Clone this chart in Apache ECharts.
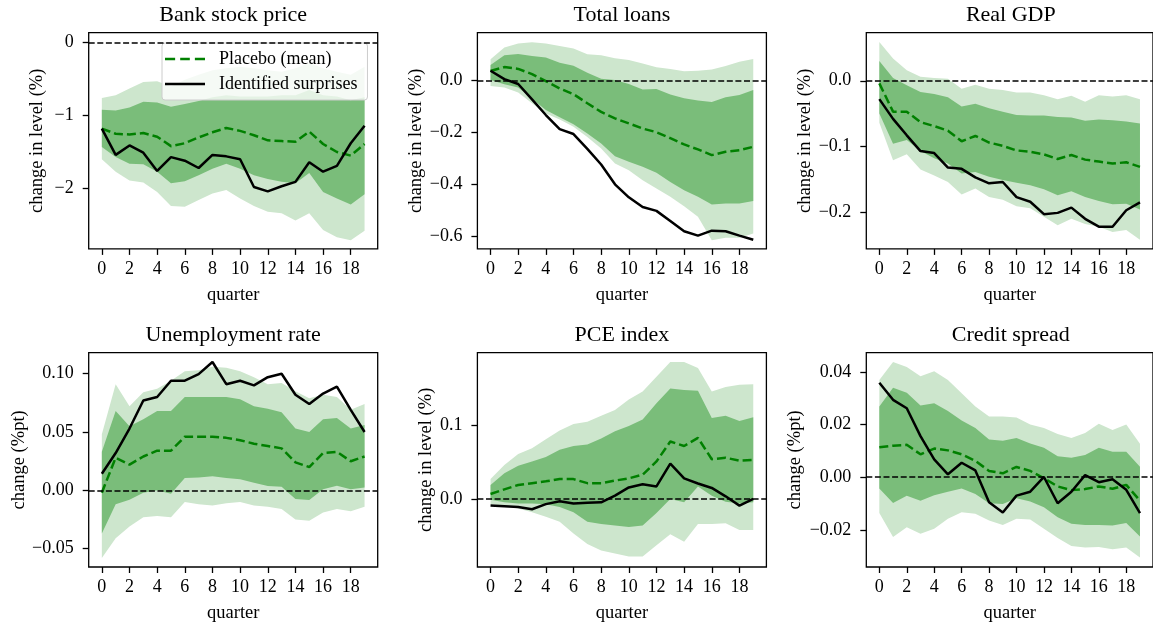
<!DOCTYPE html>
<html>
<head>
<meta charset="utf-8">
<script src="https://cdn.jsdelivr.net/npm/echarts@6/dist/echarts.min.js"></script>
<style>
html,body{margin:0;padding:0;background:#fff;}
#chart{width:1153px;height:624px;}
</style>
</head>
<body>
<div id="chart"></div>
<script>
// ---------------- DATA ----------------
const quarters = [0,1,2,3,4,5,6,7,8,9,10,11,12,13,14,15,16,17,18,19];
const xTicks = [0,2,4,6,8,10,12,14,16,18];

const panelTitles = ['Bank stock price','Total loans','Real GDP','Unemployment rate','PCE index','Credit spread'];
const yAxisNames = ['change in level (%)','change in level (%)','change in level (%)','change (%pt)','change in level (%)','change (%pt)'];
const yTicks = [[-2,-1,0],[-0.6,-0.4,-0.2,0],[-0.2,-0.1,0],[-0.05,0,0.05,0.1],[0,0.1],[-0.02,0,0.02,0.04]];
const yDecimals = [0,1,1,2,1,2];
const yRanges = [[-2.83,0.137],[-0.647,0.183],[-0.2558,0.0731],[-0.0657,0.118],[-0.0924,0.1987],[-0.0341,0.0473]];
const legendNames = ['Placebo (mean)','Identified surprises'];

// Bank stock price
const bankIdent   = [-1.18,-1.54,-1.41,-1.51,-1.76,-1.57,-1.62,-1.72,-1.54,-1.56,-1.60,-1.98,-2.04,-1.97,-1.91,-1.64,-1.77,-1.69,-1.38,-1.14];
const bankMean    = [-1.18,-1.25,-1.26,-1.24,-1.29,-1.42,-1.38,-1.30,-1.23,-1.17,-1.21,-1.27,-1.34,-1.35,-1.36,-1.22,-1.39,-1.50,-1.55,-1.39];
const bankDarkHi  = [-0.92,-0.93,-0.89,-0.81,-0.82,-0.88,-0.84,-0.80,-0.75,-0.72,-0.74,-0.74,-0.74,-0.72,-0.72,-0.65,-0.72,-0.74,-0.79,-0.75];
const bankDarkLo  = [-1.43,-1.57,-1.66,-1.67,-1.77,-1.93,-1.90,-1.82,-1.73,-1.66,-1.73,-1.82,-1.87,-1.91,-1.93,-1.79,-2.05,-2.14,-2.22,-2.08];
const bankLightHi = [-0.76,-0.72,-0.63,-0.54,-0.53,-0.60,-0.51,-0.44,-0.38,-0.35,-0.33,-0.35,-0.38,-0.40,-0.35,-0.28,-0.35,-0.40,-0.44,-0.33];
const bankLightLo = [-1.60,-1.77,-1.89,-1.92,-2.05,-2.24,-2.25,-2.16,-2.07,-2.02,-2.14,-2.24,-2.32,-2.34,-2.44,-2.34,-2.57,-2.67,-2.71,-2.58];

// Total loans
const loansIdent   = [0.037,0.005,-0.014,-0.073,-0.133,-0.187,-0.206,-0.263,-0.323,-0.399,-0.449,-0.486,-0.501,-0.540,-0.579,-0.596,-0.577,-0.579,-0.596,-0.612];
const loansMean    = [0.036,0.051,0.044,0.024,-0.003,-0.031,-0.053,-0.088,-0.121,-0.146,-0.165,-0.185,-0.199,-0.222,-0.246,-0.265,-0.287,-0.274,-0.268,-0.255];
const loansDarkHi  = [0.059,0.096,0.101,0.094,0.088,0.068,0.056,0.029,0.006,0.001,-0.014,-0.035,-0.033,-0.054,-0.069,-0.077,-0.083,-0.065,-0.056,-0.037];
const loansDarkLo  = [0.001,-0.015,-0.027,-0.071,-0.114,-0.142,-0.168,-0.204,-0.242,-0.291,-0.312,-0.332,-0.355,-0.390,-0.422,-0.447,-0.477,-0.473,-0.473,-0.463];
const loansLightHi = [0.081,0.126,0.142,0.146,0.142,0.132,0.122,0.100,0.096,0.085,0.078,0.065,0.050,0.044,0.035,0.037,0.042,0.055,0.071,0.082];
const loansLightLo = [-0.022,-0.027,-0.047,-0.088,-0.127,-0.150,-0.178,-0.217,-0.262,-0.319,-0.345,-0.383,-0.415,-0.447,-0.483,-0.524,-0.614,-0.604,-0.604,-0.588];

// Real GDP
const gdpIdent   = [-0.028,-0.058,-0.083,-0.107,-0.110,-0.132,-0.134,-0.147,-0.156,-0.154,-0.177,-0.184,-0.203,-0.201,-0.193,-0.210,-0.222,-0.222,-0.197,-0.185];
const gdpMean    = [-0.004,-0.047,-0.047,-0.063,-0.069,-0.076,-0.092,-0.084,-0.094,-0.099,-0.106,-0.108,-0.112,-0.119,-0.113,-0.120,-0.123,-0.126,-0.124,-0.131];
const gdpDarkHi  = [0.030,0.004,-0.007,-0.017,-0.020,-0.025,-0.039,-0.035,-0.042,-0.047,-0.052,-0.053,-0.053,-0.055,-0.056,-0.061,-0.059,-0.060,-0.062,-0.065];
const gdpDarkLo  = [-0.050,-0.096,-0.090,-0.107,-0.118,-0.126,-0.141,-0.139,-0.146,-0.151,-0.155,-0.159,-0.165,-0.174,-0.168,-0.177,-0.183,-0.188,-0.187,-0.196];
const gdpLightHi = [0.059,0.034,0.016,0.006,0.004,0.003,-0.012,-0.006,-0.012,-0.014,-0.018,-0.018,-0.022,-0.028,-0.023,-0.032,-0.022,-0.024,-0.022,-0.028];
const gdpLightLo = [-0.064,-0.121,-0.112,-0.135,-0.144,-0.154,-0.173,-0.164,-0.177,-0.181,-0.191,-0.194,-0.207,-0.220,-0.210,-0.218,-0.222,-0.230,-0.227,-0.242];

// Unemployment rate
const unempIdent   = [0.0142,0.032,0.053,0.077,0.080,0.094,0.094,0.0996,0.110,0.091,0.094,0.090,0.097,0.100,0.082,0.074,0.083,0.089,0.069,0.050];
const unempMean    = [-0.002,0.028,0.022,0.029,0.034,0.034,0.046,0.046,0.046,0.045,0.043,0.040,0.038,0.036,0.024,0.020,0.032,0.033,0.025,0.029];
const unempDarkHi  = [0.033,0.068,0.055,0.061,0.068,0.068,0.080,0.080,0.080,0.080,0.078,0.072,0.070,0.067,0.053,0.050,0.061,0.062,0.053,0.056];
const unempDarkLo  = [-0.037,-0.012,-0.008,-0.002,0.000,-0.003,0.0105,0.011,0.012,0.0105,0.0096,0.0065,0.0037,0.003,-0.0074,-0.0082,0.001,0.004,0.001,0.0025];
const unempLightHi = [0.048,0.091,0.072,0.084,0.087,0.094,0.102,0.103,0.106,0.105,0.102,0.097,0.091,0.092,0.085,0.079,0.082,0.080,0.069,0.074];
const unempLightLo = [-0.058,-0.041,-0.031,-0.023,-0.022,-0.023,-0.010,-0.012,-0.013,-0.011,-0.010,-0.013,-0.014,-0.016,-0.025,-0.026,-0.019,-0.016,-0.018,-0.014];

// PCE index
const pceIdent   = [-0.009,-0.010,-0.011,-0.014,-0.007,-0.003,-0.006,-0.005,-0.0045,0.0045,0.0157,0.020,0.017,0.048,0.028,0.021,0.015,0.0036,-0.009,0.000];
const pceMean    = [0.0067,0.013,0.019,0.0215,0.024,0.027,0.027,0.0215,0.0215,0.025,0.028,0.033,0.051,0.078,0.072,0.083,0.054,0.056,0.052,0.053];
const pceDarkHi  = [0.019,0.035,0.045,0.051,0.057,0.067,0.072,0.074,0.082,0.092,0.099,0.108,0.130,0.150,0.148,0.147,0.110,0.113,0.106,0.111];
const pceDarkLo  = [-0.001,-0.0045,-0.006,-0.006,-0.007,-0.011,-0.018,-0.031,-0.034,-0.036,-0.038,-0.036,-0.019,0.000,-0.0045,0.017,0.0045,-0.0036,-0.006,-0.0045];
const pceLightHi = [0.027,0.046,0.061,0.069,0.081,0.093,0.102,0.105,0.113,0.121,0.135,0.146,0.166,0.186,0.186,0.178,0.146,0.152,0.155,0.156];
const pceLightLo = [-0.007,-0.009,-0.013,-0.018,-0.024,-0.031,-0.047,-0.061,-0.070,-0.074,-0.078,-0.078,-0.063,-0.048,-0.058,-0.034,-0.034,-0.033,-0.042,-0.042];

// Credit spread
const spreadIdent   = [0.0359,0.0294,0.0262,0.0156,0.0068,0.0011,0.0055,0.0026,-0.0095,-0.0134,-0.007,-0.0055,0.0001,-0.0099,-0.0055,0.0008,-0.0019,-0.0008,-0.0048,-0.0136];
const spreadMean    = [0.0114,0.012,0.0123,0.0087,0.0109,0.0102,0.0087,0.0062,0.0024,0.0015,0.0039,0.0024,-0.0004,-0.0035,-0.0049,-0.0045,-0.0035,-0.0044,-0.0029,-0.0089];
const spreadDarkHi  = [0.0269,0.034,0.0321,0.0272,0.0281,0.0252,0.0215,0.0187,0.0143,0.0139,0.0149,0.0128,0.0112,0.008,0.0074,0.0084,0.0112,0.0097,0.0097,0.004];
const spreadDarkLo  = [-0.0043,-0.0098,-0.007,-0.0089,-0.0068,-0.0055,-0.0043,-0.0064,-0.0099,-0.0102,-0.008,-0.0092,-0.0114,-0.0152,-0.0177,-0.0181,-0.0181,-0.0183,-0.0174,-0.0225];
const spreadLightHi = [0.0369,0.0438,0.0419,0.0384,0.0403,0.0369,0.0319,0.0269,0.0231,0.0231,0.0227,0.020,0.0187,0.0164,0.0149,0.0168,0.0203,0.0179,0.020,0.0127];
const spreadLightLo = [-0.0136,-0.0227,-0.019,-0.0215,-0.0196,-0.0158,-0.0133,-0.0139,-0.0164,-0.0181,-0.0158,-0.0161,-0.0196,-0.0231,-0.0261,-0.0267,-0.0265,-0.0274,-0.0267,-0.0305];

const panels = [
  {ident: bankIdent,   mean: bankMean,   darkHi: bankDarkHi,   darkLo: bankDarkLo,   lightHi: bankLightHi,   lightLo: bankLightLo},
  {ident: loansIdent,  mean: loansMean,  darkHi: loansDarkHi,  darkLo: loansDarkLo,  lightHi: loansLightHi,  lightLo: loansLightLo},
  {ident: gdpIdent,    mean: gdpMean,    darkHi: gdpDarkHi,    darkLo: gdpDarkLo,    lightHi: gdpLightHi,    lightLo: gdpLightLo},
  {ident: unempIdent,  mean: unempMean,  darkHi: unempDarkHi,  darkLo: unempDarkLo,  lightHi: unempLightHi,  lightLo: unempLightLo},
  {ident: pceIdent,    mean: pceMean,    darkHi: pceDarkHi,    darkLo: pceDarkLo,    lightHi: pceLightHi,    lightLo: pceLightLo},
  {ident: spreadIdent, mean: spreadMean, darkHi: spreadDarkHi, darkLo: spreadDarkLo, lightHi: spreadLightHi, lightLo: spreadLightLo}
];

// ---------------- LAYOUT / STYLE ----------------
const FONT = "'Liberation Serif', 'Times New Roman', Times, serif";
const gridLefts = [88.7, 477.4, 866.3];
const gridTops = [32.7, 352.7];
const GW = 289, GH = 216.2;
const yNameGaps = [42, 46, 47.5, 57, 41.5, 61.5];
const LIGHT = '#cde6cd', DARK = '#7abd7a', GREEN = '#008000';
const DASH_ICON = 'path://M0,0h10v2.5h-10z M15,0h9.5v2.5h-9.5z M29.5,0h10v2.5h-10z';
const SOLID_ICON = 'path://M0,0h39.5v2.5h-39.5z';

function fmt(v, d) {
  const s = Math.abs(v) < 1e-12 ? (0).toFixed(d) : v.toFixed(d);
  return s.replace('-', '\u2212');
}

const grids = [], xAxes = [], yAxes = [], series = [], graphics = [];
panels.forEach((p, i) => {
  const col = i % 3, row = Math.floor(i / 3);
  const left = gridLefts[col], top = gridTops[row];
  grids.push({left: left, top: top, width: GW, height: GH, show: true,
    borderColor: '#000', borderWidth: 1.3, backgroundColor: 'transparent', containLabel: false});
  xAxes.push({type: 'value', gridIndex: i, min: -0.95, max: 19.95,
    name: 'quarter', nameLocation: 'middle', nameGap: 37,
    nameTextStyle: {fontFamily: FONT, fontSize: 18.5, color: '#000'},
    axisLine: {show: false, onZero: false},
    splitLine: {show: false},
    axisTick: {show: true, length: 6, customValues: xTicks, lineStyle: {color: '#000', width: 1.3}},
    axisLabel: {show: true, customValues: xTicks, margin: 11, fontFamily: FONT, fontSize: 18, color: '#000',
      formatter: v => String(Math.round(v))}
  });
  const d = yDecimals[i];
  yAxes.push({type: 'value', gridIndex: i, min: yRanges[i][0], max: yRanges[i][1],
    name: yAxisNames[i], nameLocation: 'middle', nameGap: yNameGaps[i],
    nameTextStyle: {fontFamily: FONT, fontSize: 18.5, color: '#000'},
    axisLine: {show: false, onZero: false},
    splitLine: {show: false},
    axisTick: {show: true, length: 6, customValues: yTicks[i], lineStyle: {color: '#000', width: 1.3}},
    axisLabel: {show: true, customValues: yTicks[i], margin: 15, fontFamily: FONT, fontSize: 18, color: '#000',
      formatter: v => fmt(v, d)}
  });
  graphics.push({type: 'text', x: left + GW / 2, y: top - 28, silent: true,
    style: {text: panelTitles[i], fill: '#000', font: '22px ' + FONT, textAlign: 'center', textVerticalAlign: 'top'}});

  function band(lo, hi, color, z) {
    return {
      type: 'custom', name: 'band', xAxisIndex: i, yAxisIndex: i, z: z, silent: true,
      data: quarters.map((q, k) => [q, lo[k], hi[k]]),
      encode: {x: 0, y: [1, 2]},
      renderItem: function (params, api) {
        if (params.dataIndex !== 0) return null;
        const pts = [];
        for (let k = 0; k < quarters.length; k++) pts.push(api.coord([quarters[k], hi[k]]));
        for (let k = quarters.length - 1; k >= 0; k--) pts.push(api.coord([quarters[k], lo[k]]));
        return {type: 'polygon', shape: {points: pts}, style: {fill: color, stroke: null}};
      }
    };
  }
  series.push(band(p.lightLo, p.lightHi, LIGHT, 1));
  series.push(band(p.darkLo, p.darkHi, DARK, 2));
  series.push({type: 'line', name: legendNames[0], xAxisIndex: i, yAxisIndex: i, z: 4,
    symbol: 'none', showSymbol: false, silent: true,
    data: quarters.map((q, k) => [q, p.mean[k]]),
    lineStyle: {color: GREEN, width: 2.5, type: [9, 4]}, itemStyle: {color: GREEN}});
  series.push({type: 'line', name: legendNames[1], xAxisIndex: i, yAxisIndex: i, z: 5,
    symbol: 'none', showSymbol: false, silent: true,
    data: quarters.map((q, k) => [q, p.ident[k]]),
    lineStyle: {color: '#000', width: 2.5, type: 'solid'}, itemStyle: {color: '#000'},
    markLine: {silent: true, symbol: ['none', 'none'], label: {show: false}, animation: false,
      lineStyle: {color: '#000', width: 1.6, type: [6, 2.6]},
      data: [{yAxis: 0}]}
  });
});

const chart = echarts.init(document.getElementById('chart'), null, {renderer: 'canvas'});
chart.setOption({
  animation: false,
  backgroundColor: '#fff',
  grid: grids,
  xAxis: xAxes,
  yAxis: yAxes,
  graphic: graphics,
  legend: {
    data: [
      {name: legendNames[0], icon: DASH_ICON, itemStyle: {color: GREEN, borderWidth: 0}},
      {name: legendNames[1], icon: SOLID_ICON, itemStyle: {color: '#000', borderWidth: 0}}
    ],
    orient: 'vertical', left: 162, top: 43,
    itemWidth: 40, itemHeight: 14, itemGap: 7,
    symbolKeepAspect: true,
    padding: [7, 10, 7, 3],
    backgroundColor: 'rgba(255,255,255,0.8)', borderColor: '#cccccc', borderWidth: 1, borderRadius: 3,
    selectedMode: false,
    textStyle: {fontFamily: FONT, fontSize: 18, color: '#000', padding: [0, 0, 0, 9]}
  },
  series: series
});
</script>
</body>
</html>
